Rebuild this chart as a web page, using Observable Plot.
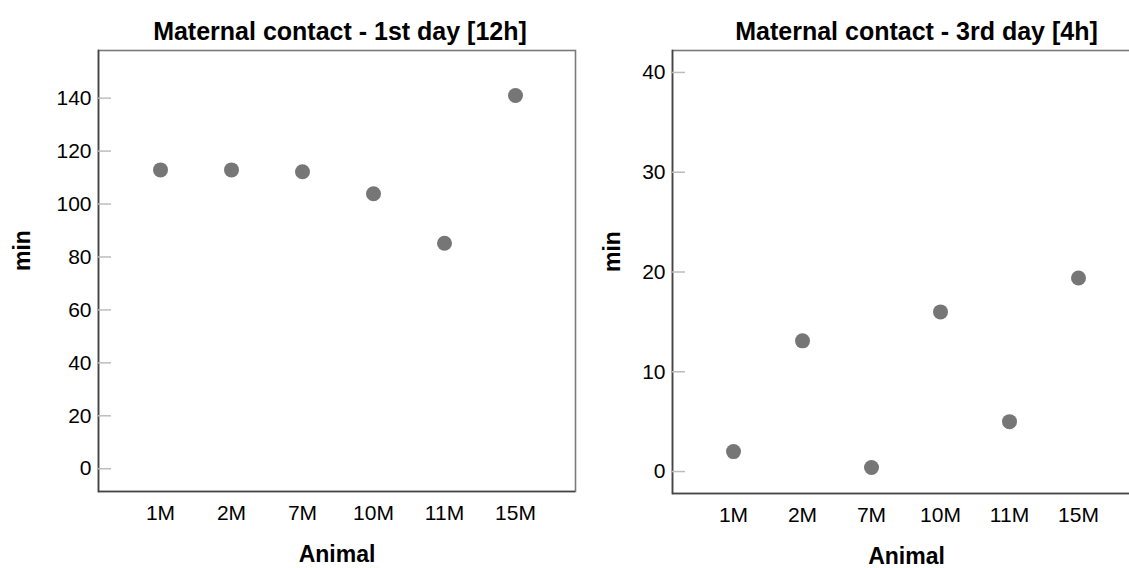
<!DOCTYPE html>
<html>
<head>
<meta charset="utf-8">
<script src="https://cdn.jsdelivr.net/npm/d3@7"></script>
<script src="https://cdn.jsdelivr.net/npm/@observablehq/plot@0.6"></script>
<style>
  html, body { margin: 0; padding: 0; background: #fff; overflow: hidden; }
  #wrap { position: relative; width: 1129px; height: 568px; overflow: hidden; background: #fff; }
  #wrap > svg { position: absolute; top: 0; }
</style>
</head>
<body>
<div id="wrap"></div>
<script>
const animals = ["1M", "2M", "7M", "10M", "11M", "15M"];
const day1Values = [112.9, 112.9, 112.2, 103.9, 85.2, 141.0];
const day3Values = [2.0, 13.1, 0.4, 16.0, 5.0, 19.4];
const day1Ticks = [0, 20, 40, 60, 80, 100, 120, 140];
const day3Ticks = [0, 10, 20, 30, 40];
const titles = ["Maternal contact - 1st day [12h]", "Maternal contact - 3rd day [4h]"];
const xLabel = ["Animal"];
const yLabel = ["min"];

const FONT = "'Liberation Sans', Arial, Helvetica, sans-serif";

function panel({values, ticks, domain, title, width, left, mL, mR, mT, mB, inL, inR, titleDx, minX}) {
  const data = animals.map((a, i) => ({animal: a, value: values[i]}));
  const frameW = width - mL - mR;
  const chart = Plot.plot({
    width, height: 568,
    marginLeft: mL, marginRight: mR, marginTop: mT, marginBottom: mB,
    style: {fontFamily: FONT, fontSize: "21px", color: "#000", background: "transparent", overflow: "visible"},
    x: {type: "point", domain: animals, padding: 0, insetLeft: inL, insetRight: inR},
    y: {domain, ticks},
    marks: [
      Plot.frame({stroke: "#7a7a7a", strokeWidth: 1.6}),
      Plot.ruleY([domain[0]], {stroke: "#444", strokeWidth: 1.6}),
      Plot.frame({anchor: "left", stroke: "#444", strokeWidth: 1.6}),
      Plot.tickY(ticks, {y: d => d, stroke: "#bdbdbd", strokeWidth: 1.5, insetRight: frameW - 13}),
      Plot.axisY({ticks, tickSize: 0, tickPadding: 7, fontSize: 21, label: null, tickFormat: d => String(d)}),
      Plot.axisX({tickSize: 0, tickPadding: 14, fontSize: 21, label: null}),
      Plot.dot(data, {x: "animal", y: "value", r: 7.5, fill: "#767676", stroke: "none"}),
      Plot.text([title], {frameAnchor: "top", dy: -28, dx: titleDx, fontSize: 25, fontWeight: "bold", fill: "#000"}),
      Plot.text(xLabel, {frameAnchor: "bottom", dy: 70, fontSize: 23, fontWeight: "bold", fill: "#000"}),
      Plot.text(yLabel, {frameAnchor: "left", dx: -(mL - minX), rotate: -90, fontSize: 23, fontWeight: "bold", fill: "#000"})
    ]
  });
  chart.style.left = left + "px";
  return chart;
}

const wrap = document.getElementById("wrap");
wrap.appendChild(panel({
  values: day1Values, ticks: day1Ticks, domain: [-8.6, 158], title: titles[0],
  width: 590, left: 0, mL: 98, mR: 15, mT: 50, mB: 77, inL: 60, inR: 58.5, titleDx: 3, minX: 22
}));
wrap.appendChild(panel({
  values: day3Values, ticks: day3Ticks, domain: [-2.2, 42.2], title: titles[1],
  width: 600, left: 560, mL: 112, mR: 20, mT: 50, mB: 75, inL: 59, inR: 59.3, titleDx: 10, minX: 52
}));
</script>
</body>
</html>
